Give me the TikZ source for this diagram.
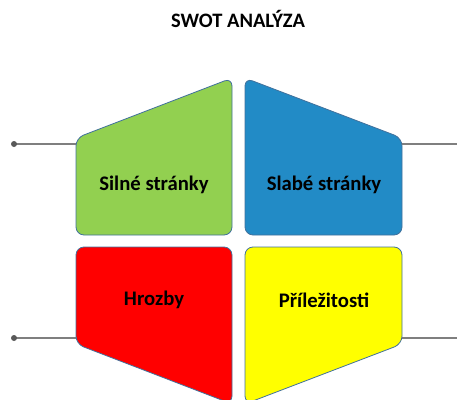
\documentclass[tikz,border=0pt]{standalone}
\usepackage{fontspec}
\setmainfont{Carlito}
\definecolor{swotgreen}{HTML}{92D050}
\definecolor{swotblue}{HTML}{228BC6}
\definecolor{swotred}{HTML}{FF0000}
\definecolor{swotyellow}{HTML}{FFFF00}
\definecolor{edgeblue}{HTML}{41719C}
\definecolor{linegray}{HTML}{7F7F7F}
\definecolor{dotgray}{HTML}{595959}
\begin{document}
\begin{tikzpicture}[x=1pt,y=-1pt,
  part/.style={draw=edgeblue,line width=0.8pt,rounded corners=8pt,line join=round},
  lbl/.style={font=\bfseries\fontsize{20.7}{24}\selectfont},
  conn/.style={draw=linegray,line width=1.5pt}]
\useasboundingbox (0,0) rectangle (457,399);
\clip (0,0) rectangle (457,399);
% corners of the four parts
\coordinate (G1) at (76,138);  \coordinate (G2) at (232,78);
\coordinate (G3) at (232,235); \coordinate (G4) at (76,235);
\coordinate (B1) at (245,78);  \coordinate (B2) at (402,138);
\coordinate (B3) at (402,235); \coordinate (B4) at (245,235);
\coordinate (R1) at (76,247);  \coordinate (R2) at (232,247);
\coordinate (R3) at (232,404); \coordinate (R4) at (76,344);
\coordinate (Y1) at (245,247); \coordinate (Y2) at (402,247);
\coordinate (Y3) at (402,344); \coordinate (Y4) at (245,404);
% connector ends
\coordinate (LG) at (76,144);  \coordinate (DG) at (14,144);
\coordinate (LB) at (402,144); \coordinate (EB) at (462,144);
\coordinate (LR) at (76,338);  \coordinate (DR) at (14,338);
\coordinate (LY) at (402,338); \coordinate (EY) at (462,338);
\draw[conn] (DG) -- (LG);
\draw[conn] (LB) -- (EB);
\draw[conn] (DR) -- (LR);
\draw[conn] (LY) -- (EY);
\fill[dotgray] (DG) circle (3); \fill[dotgray] (DR) circle (3);
% the parts
\filldraw[part,fill=swotgreen] (G1) -- (G2) -- (G3) -- (G4) -- cycle;
\filldraw[part,fill=swotblue] (B1) -- (B2) -- (B3) -- (B4) -- cycle;
\filldraw[part,fill=swotred] (R1) -- (R2) -- (R3) -- (R4) -- cycle;
\filldraw[part,fill=swotyellow] (Y1) -- (Y2) -- (Y3) -- (Y4) -- cycle;
\node[font=\bfseries\fontsize{20.5}{24}\selectfont] (title) at (238,19) {SWOT ANALÝZA};
\node[lbl] (silne) at (154,185) {Silné stránky};
\node[lbl] (slabe) at (324,185) {Slabé stránky};
\node[lbl] (hrozby) at (154,300) {Hrozby};
\node[lbl] (prilez) at (324,300) {Příležitosti};
\end{tikzpicture}
\end{document}
